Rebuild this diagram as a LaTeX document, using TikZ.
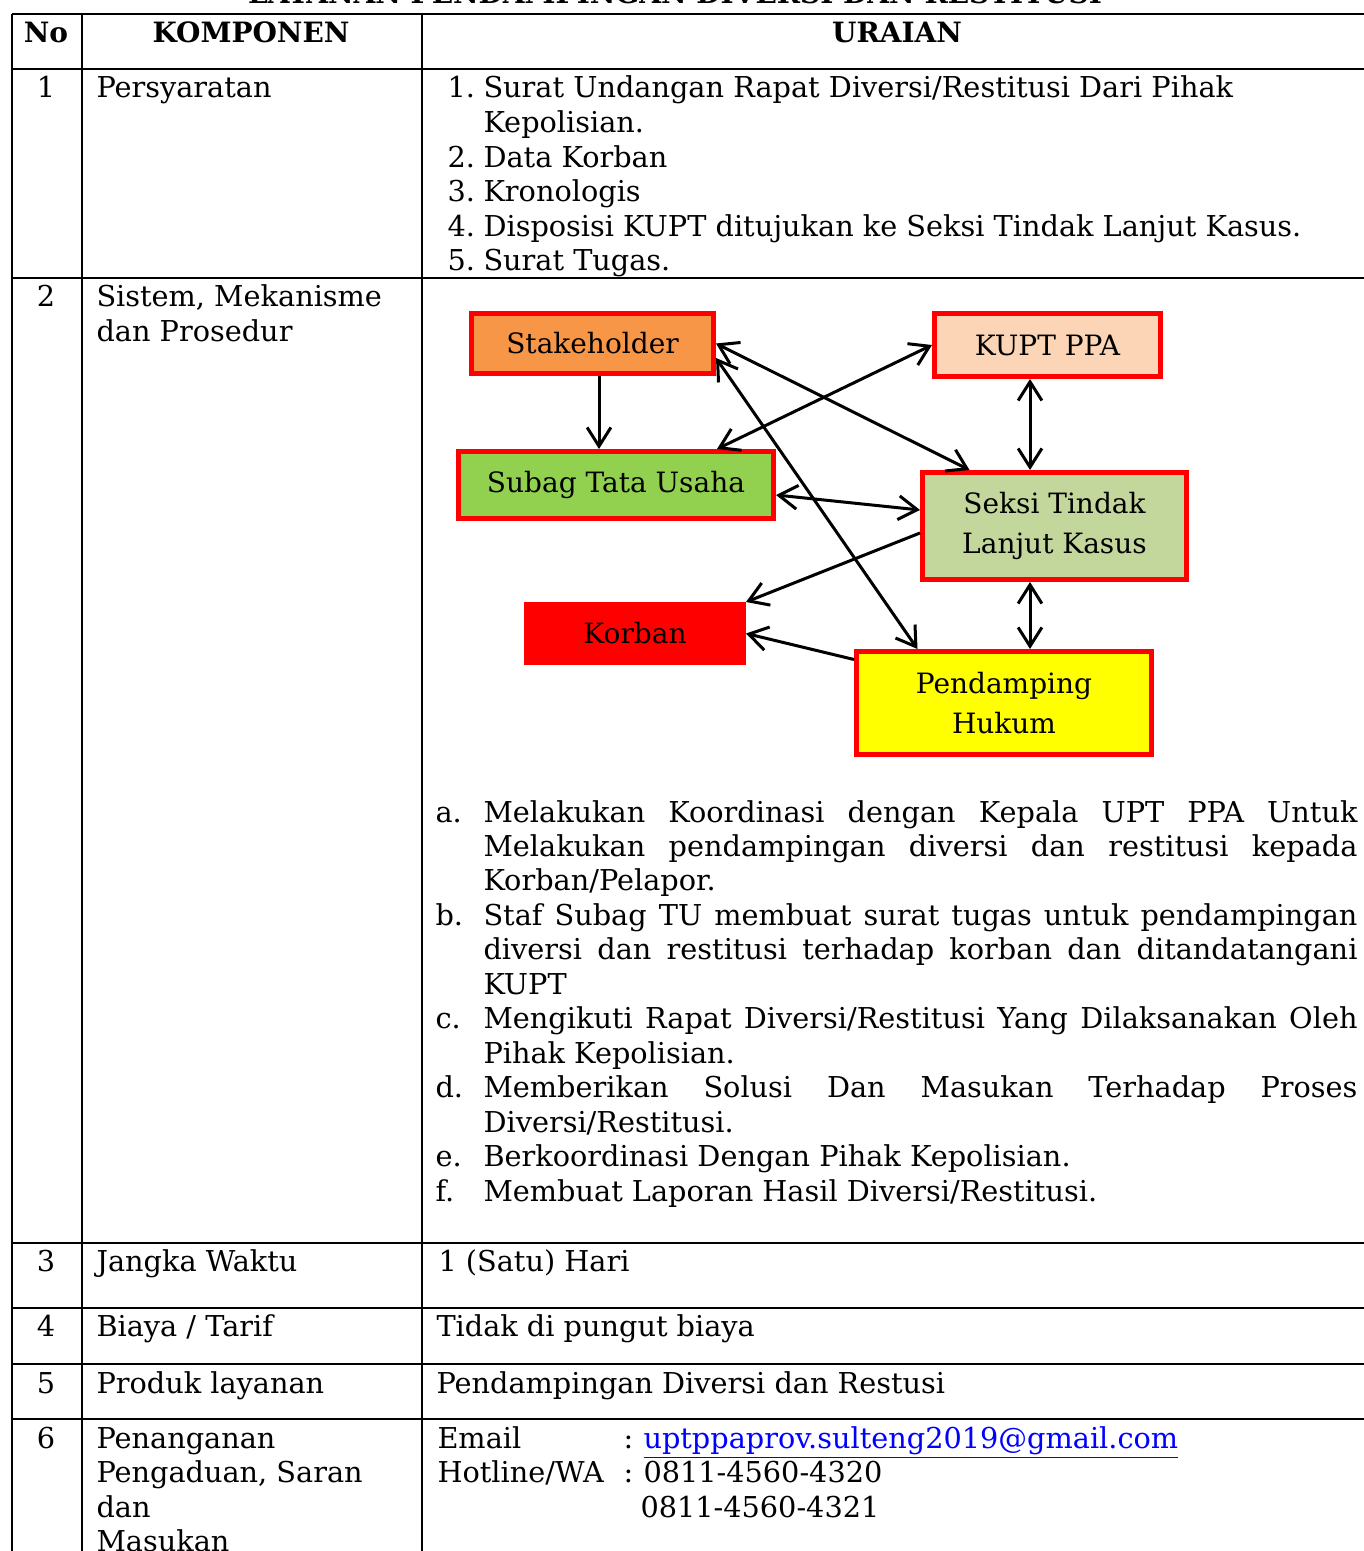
\documentclass[tikz,border=0pt]{standalone}
\usepackage{fontspec}
\setmainfont{DejaVu Serif}
\usetikzlibrary{arrows.meta}
\definecolor{boxred}{HTML}{FF0000}
\definecolor{cOrange}{HTML}{F79646}
\definecolor{cPeach}{HTML}{FBD5B5}
\definecolor{cGreen}{HTML}{92D050}
\definecolor{cSage}{HTML}{C3D69B}
\definecolor{cYellow}{HTML}{FFFF00}
\definecolor{cLink}{HTML}{0000FF}
\newcommand{\bodyfont}{\fontsize{11.5}{13.84}\selectfont}
\newcommand{\hdfont}{\fontsize{11.2}{13.84}\selectfont\bfseries}
\newcommand{\boxfont}{\fontsize{11.2}{16}\selectfont}
\begin{document}
\begin{tikzpicture}[x=0.4pt,y=-0.4pt,
  txt/.style={anchor=base west, inner sep=0pt, font=\bodyfont},
  ctr/.style={anchor=base, inner sep=0pt, font=\bodyfont},
  hd/.style={anchor=base, inner sep=0pt, font=\hdfont},
  grid/.style={line width=0.95pt, black},
  vgrid/.style={line width=0.7pt, black},
  dbox/.style={draw=boxred, line width=2pt, inner sep=0pt, align=center, font=\boxfont},
  dbl/.style={{Straight Barb[length=7.5pt,width=9.5pt]}-{Straight Barb[length=7.5pt,width=9.5pt]}, line width=1.2pt},
  sgl/.style={-{Straight Barb[length=7.5pt,width=9.5pt]}, line width=1.2pt}
]
\useasboundingbox (0,0) rectangle (1364,1551);
\fill[white] (0,0) rectangle (1364,1551);

% title (cut off at top)
\node[anchor=base, inner sep=0pt, font=\hdfont] (title) at (675,3.5) {LAYANAN PENDAMPINGAN DIVERSI DAN RESTITUSI};

% table grid
\foreach \yy in {14,69,278,1243,1308,1364,1419}
  \draw[grid] (12,\yy) -- (1375,\yy);
\foreach \xx in {12,82,422}
  \draw[vgrid] (\xx,14) -- (\xx,1570);

% header
\node[hd] (hNo) at (46,43) {No};
\node[hd] (hKomp) at (251,43) {KOMPONEN};
\node[hd] (hUr) at (897,43) {URAIAN};

% row 1
\node[ctr] (n1) at (46,98) {1};
\node[txt] (k1) at (96,98) {Persyaratan};
\node[txt] (p1n) at (447,98) {1.};
\node[txt] (p1) at (483,98) {Surat Undangan Rapat Diversi/Restitusi Dari Pihak};
\node[txt] (p1b) at (483,132.6) {Kepolisian.};
\node[txt] (p2n) at (447,167.2) {2.};
\node[txt] (p2) at (483,167.2) {Data Korban};
\node[txt] (p3n) at (447,201.8) {3.};
\node[txt] (p3) at (483,201.8) {Kronologis};
\node[txt] (p4n) at (447,236.4) {4.};
\node[txt] (p4) at (483,236.4) {Disposisi KUPT ditujukan ke Seksi Tindak Lanjut Kasus.};
\node[txt] (p5n) at (447,271) {5.};
\node[txt] (p5) at (483,271) {Surat Tugas.};

% row 2
\node[ctr] (n2) at (46,307) {2};
\node[txt] (k2a) at (96,307) {Sistem, Mekanisme};
\node[txt] (k2b) at (96,341.6) {dan Prosedur};

% diagram boxes
\node[dbox, fill=cOrange, minimum width=96.8pt, minimum height=24pt] (stake) at (592.5,343.5) {Stakeholder};
\node[dbox, fill=cPeach, minimum width=90.4pt, minimum height=25.2pt] (kupt) at (1047.5,345) {KUPT PPA};
\node[dbox, fill=cGreen, minimum width=126pt, minimum height=26.8pt] (subag) at (616,485) {Subag Tata Usaha};
\node[dbox, fill=cSage, minimum width=105.6pt, minimum height=42.8pt] (seksi) at (1054.5,526) {Seksi Tindak\\Lanjut Kasus};
\node[dbox, fill=boxred, minimum width=86.8pt, minimum height=23.2pt] (korban) at (635,633.5) {Korban};
\node[dbox, fill=cYellow, minimum width=118pt, minimum height=41.2pt] (pend) at (1004,703) {Pendamping\\Hukum};

% connectors
\draw[sgl] ([xshift=2.6pt]stake.south) -- ([xshift=2.6pt]stake.south |- subag.north);
\draw[dbl] (stake.east) -- ([xshift=19.8pt]seksi.north west);
\draw[dbl] (kupt.west) -- ([xshift=40.4pt]subag.north);
\draw[dbl] ([yshift=-5.8pt]stake.east) -- ([xshift=25.4pt]pend.north west);
\draw[dbl] ([yshift=-4pt]subag.east) -- ([yshift=6.4pt]seksi.west);
\draw[sgl] ([yshift=-2.8pt]seksi.west) -- (korban.north east);
\draw[sgl] ([yshift=-4.2pt]pend.north west) -- (korban.east);
\draw[dbl] ([xshift=-7pt]kupt.south) -- ([xshift=-7pt]kupt.south |- seksi.north);
\draw[dbl] ([xshift=-9.8pt]seksi.south) -- ([xshift=-9.8pt]seksi.south |- pend.north);

% list a-f
\node[txt] (la) at (435,822) {a.};
\node[txt] (la1) at (483,822) {\makebox[349.6pt][s]{Melakukan Koordinasi dengan Kepala UPT PPA Untuk}};
\node[txt] (la2) at (483,856.5) {\makebox[349.6pt][s]{Melakukan pendampingan diversi dan restitusi kepada}};
\node[txt] (la3) at (483,890.9) {Korban/Pelapor.};
\node[txt] (lb) at (435,925.4) {b.};
\node[txt] (lb1) at (483,925.4) {\makebox[349.6pt][s]{Staf Subag TU membuat surat tugas untuk pendampingan}};
\node[txt] (lb2) at (483,959.8) {\makebox[349.6pt][s]{diversi dan restitusi terhadap korban dan ditandatangani}};
\node[txt] (lb3) at (483,994.3) {KUPT};
\node[txt] (lc) at (435,1028.7) {c.};
\node[txt] (lc1) at (483,1028.7) {\makebox[349.6pt][s]{Mengikuti Rapat Diversi/Restitusi Yang Dilaksanakan Oleh}};
\node[txt] (lc2) at (483,1063.2) {Pihak Kepolisian.};
\node[txt] (ld) at (435,1097.6) {d.};
\node[txt] (ld1) at (483,1097.6) {\makebox[349.6pt][s]{Memberikan Solusi Dan Masukan Terhadap Proses}};
\node[txt] (ld2) at (483,1132.1) {Diversi/Restitusi.};
\node[txt] (le) at (435,1166.5) {e.};
\node[txt] (le1) at (483,1166.5) {Berkoordinasi Dengan Pihak Kepolisian.};
\node[txt] (lf) at (435,1201) {f.};
\node[txt] (lf1) at (483,1201) {Membuat Laporan Hasil Diversi/Restitusi.};

% row 3
\node[ctr] (n3) at (46,1271) {3};
\node[txt] (k3) at (96,1271) {Jangka Waktu};
\node[txt] (u3) at (438,1271) {1 (Satu) Hari};

% row 4
\node[ctr] (n4) at (46,1336) {4};
\node[txt] (k4) at (96,1336) {Biaya / Tarif};
\node[txt] (u4) at (436,1336) {Tidak di pungut biaya};

% row 5
\node[ctr] (n5) at (46,1393) {5};
\node[txt] (k5) at (96,1393) {Produk layanan};
\node[txt] (u5) at (436,1393) {Pendampingan Diversi dan Restusi};

% row 6
\node[ctr] (n6) at (46,1448) {6};
\node[txt] (k6a) at (96,1448) {Penanganan};
\node[txt] (k6b) at (96,1482.6) {Pengaduan, Saran};
\node[txt] (k6c) at (96,1517.2) {dan};
\node[txt] (k6d) at (96,1551.8) {Masukan};
\node[txt] (e1) at (437,1448) {Email};
\node[txt] (e1c) at (623,1448) {:};
\node[txt, text=cLink] (email) at (643,1448) {\underline{uptppaprov.sulteng2019@gmail.com}};
\node[txt] (h1) at (437,1482.6) {Hotline/WA};
\node[txt] (h1c) at (623,1482.6) {:};
\node[txt] (h1n) at (643,1482.6) {0811-4560-4320};
\node[txt] (h2n) at (640,1517.2) {0811-4560-4321};
\end{tikzpicture}
\end{document}
